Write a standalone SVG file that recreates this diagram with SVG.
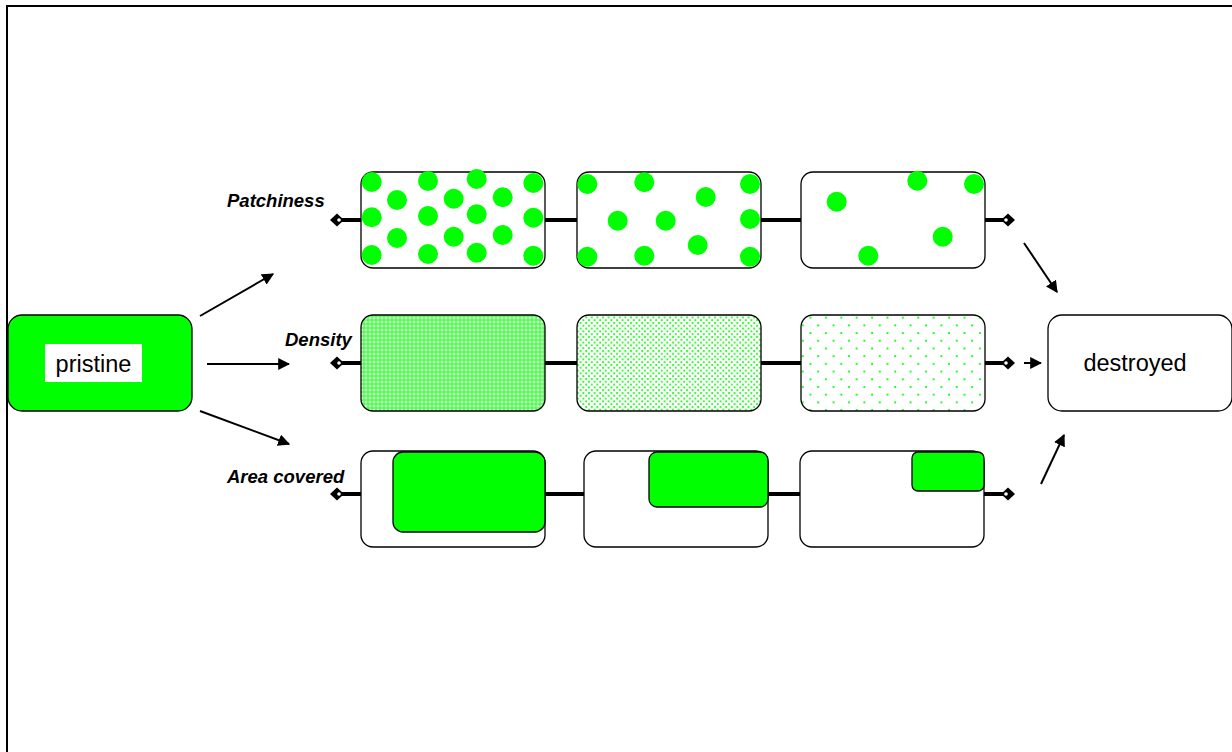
<svg xmlns="http://www.w3.org/2000/svg" width="1232" height="752" viewBox="0 0 1232 752">
<style>
.box{fill:#fff;stroke:#000;stroke-width:1.3}
.g{fill:#00ff00;stroke:#000;stroke-width:1.3}
.dot{fill:#00ff00}
.bar{stroke:#000;stroke-width:4;fill:none}
.arr{stroke:#000;stroke-width:2;fill:none;marker-end:url(#ah)}
.lbl{font-family:"Liberation Sans",Arial,sans-serif;font-size:18.5px;font-weight:bold;font-style:italic;fill:#000}
.big{font-family:"Liberation Sans",Arial,sans-serif;font-size:23.5px;fill:#000}
.dia{fill:#000}
.dh{fill:#fff}
</style>
<defs>
<marker id="ah" viewBox="0 0 10 10" refX="9" refY="5" markerWidth="6" markerHeight="6" orient="auto" markerUnits="strokeWidth">
<path d="M0,0 L10,5 L0,10 z" fill="#000"/>
</marker>
<pattern id="p1" width="4" height="4" patternUnits="userSpaceOnUse">
<rect width="4" height="4" fill="#4dff4d"/>
<rect x="1.5" y="0.6" width="1" height="2.8" fill="#fff"/>
<rect x="0.6" y="1.5" width="2.8" height="1" fill="#fff"/>
</pattern>
<pattern id="p2" width="5.6" height="5.6" patternUnits="userSpaceOnUse">
<circle cx="1" cy="1" r="1" fill="#00ff00"/>
<circle cx="3.8" cy="3.8" r="1" fill="#00ff00"/>
</pattern>
<pattern id="p3" width="15.4" height="15.4" patternUnits="userSpaceOnUse">
<circle cx="2" cy="2" r="1.1" fill="#00ff00"/>
<circle cx="9.7" cy="9.7" r="1.1" fill="#00ff00"/>
</pattern>
</defs>
<rect width="1232" height="752" fill="#fff"/>
<path d="M7,752 L7,6 L1232,6" fill="none" stroke="#000" stroke-width="2"/>

<g id="connectors">
<path class="bar" d="M336,220 H361 M545,220 H577 M761,220 H801 M985,220 H1008"/>
<path class="bar" d="M336,363 H361 M545,363 H577 M761,363 H801 M985,363 H1008"/>
<path class="bar" d="M336,494 H361 M545,494 H584 M768,494 H800 M984,494 H1008"/>
<g>
<polygon class="dia" points="330,220 337,213.5 344,220 337,226.5"/><circle class="dh" cx="339" cy="220" r="1.8"/>
<polygon class="dia" points="1001,220 1008,213.5 1015,220 1008,226.5"/><circle class="dh" cx="1006" cy="220" r="1.8"/>
<polygon class="dia" points="330,363 337,356.5 344,363 337,369.5"/><circle class="dh" cx="339" cy="363" r="1.8"/>
<polygon class="dia" points="1001,363 1008,356.5 1015,363 1008,369.5"/><circle class="dh" cx="1006" cy="363" r="1.8"/>
<polygon class="dia" points="330,494 337,487.5 344,494 337,500.5"/><circle class="dh" cx="339" cy="494" r="1.8"/>
<polygon class="dia" points="1001,494 1008,487.5 1015,494 1008,500.5"/><circle class="dh" cx="1006" cy="494" r="1.8"/>
</g>
<line class="arr" x1="200" y1="316" x2="273" y2="274"/>
<line class="arr" x1="207" y1="364" x2="289" y2="364"/>
<line class="arr" x1="200" y1="411" x2="289" y2="444"/>
<line class="arr" x1="1024" y1="243" x2="1057" y2="292"/>
<line class="arr" x1="1024" y1="363" x2="1041" y2="363"/>
<line class="arr" x1="1041" y1="484" x2="1064" y2="435"/>
</g>

<g id="pristine">
<rect class="g" x="8" y="315" width="184" height="96" rx="14"/>
<rect x="45" y="344" width="97" height="38" fill="#fff"/>
<text class="big" x="93.5" y="372" text-anchor="middle">pristine</text>
</g>

<g id="destroyed">
<rect class="box" x="1048" y="315" width="184" height="96" rx="14"/>
<text class="big" x="1135" y="371" text-anchor="middle">destroyed</text>
</g>

<g id="labels">
<text class="lbl" x="227" y="207">Patchiness</text>
<text class="lbl" x="285" y="346">Density</text>
<text class="lbl" x="227" y="483">Area covered</text>
</g>

<g id="patch1">
<rect class="box" x="361" y="172" width="184" height="96" rx="12"/>
<g class="dot">
<circle cx="371.7" cy="182" r="10"/><circle cx="397" cy="200" r="10"/><circle cx="428" cy="181" r="10"/><circle cx="476.7" cy="179" r="10"/><circle cx="502.7" cy="197.3" r="10"/><circle cx="533.3" cy="183" r="10"/>
<circle cx="371.7" cy="217.3" r="10"/><circle cx="428" cy="216" r="10"/><circle cx="453.7" cy="198.7" r="10"/><circle cx="476.7" cy="214.3" r="10"/><circle cx="533.3" cy="217.7" r="10"/>
<circle cx="397" cy="238" r="10"/><circle cx="453.7" cy="236.7" r="10"/><circle cx="502.7" cy="235" r="10"/>
<circle cx="371.7" cy="255" r="10"/><circle cx="428" cy="254" r="10"/><circle cx="476.7" cy="252.7" r="10"/><circle cx="533.3" cy="255.7" r="10"/>
</g>
</g>
<g id="patch2">
<rect class="box" x="577" y="172" width="184" height="96" rx="12"/>
<g class="dot">
<circle cx="587.3" cy="184" r="10"/><circle cx="644.3" cy="182.3" r="10"/><circle cx="705.7" cy="197" r="10"/><circle cx="750" cy="184" r="10"/>
<circle cx="617.7" cy="220.7" r="10"/><circle cx="665.7" cy="220.7" r="10"/><circle cx="750" cy="219" r="10"/>
<circle cx="587.3" cy="256.7" r="10"/><circle cx="644.3" cy="255.7" r="10"/><circle cx="697.7" cy="245" r="10"/><circle cx="750" cy="256.7" r="10"/>
</g>
</g>
<g id="patch3">
<rect class="box" x="801" y="172" width="184" height="96" rx="12"/>
<g class="dot">
<circle cx="836.7" cy="201.7" r="10"/><circle cx="917.3" cy="180.7" r="10"/><circle cx="974" cy="184" r="10"/><circle cx="942.7" cy="236.7" r="10"/><circle cx="868.3" cy="255.7" r="10"/>
</g>
</g>

<g id="density1"><rect x="361" y="315" width="184" height="96" rx="12" fill="url(#p1)" stroke="#000" stroke-width="1.3"/></g>
<g id="density2"><rect x="577" y="315" width="184" height="96" rx="12" fill="url(#p2)" stroke="#000" stroke-width="1.3"/></g>
<g id="density3"><rect x="801" y="315" width="184" height="96" rx="12" fill="url(#p3)" stroke="#000" stroke-width="1.3"/></g>

<g id="area1">
<rect class="box" x="361" y="451" width="184" height="96" rx="12"/>
<rect class="g" x="393" y="452" width="152" height="80" rx="10"/>
</g>
<g id="area2">
<rect class="box" x="584" y="451" width="184" height="96" rx="12"/>
<rect class="g" x="649" y="452" width="119" height="55" rx="8"/>
</g>
<g id="area3">
<rect class="box" x="800" y="451" width="184" height="96" rx="12"/>
<rect class="g" x="912" y="452" width="72" height="39" rx="6"/>
</g>
</svg>
